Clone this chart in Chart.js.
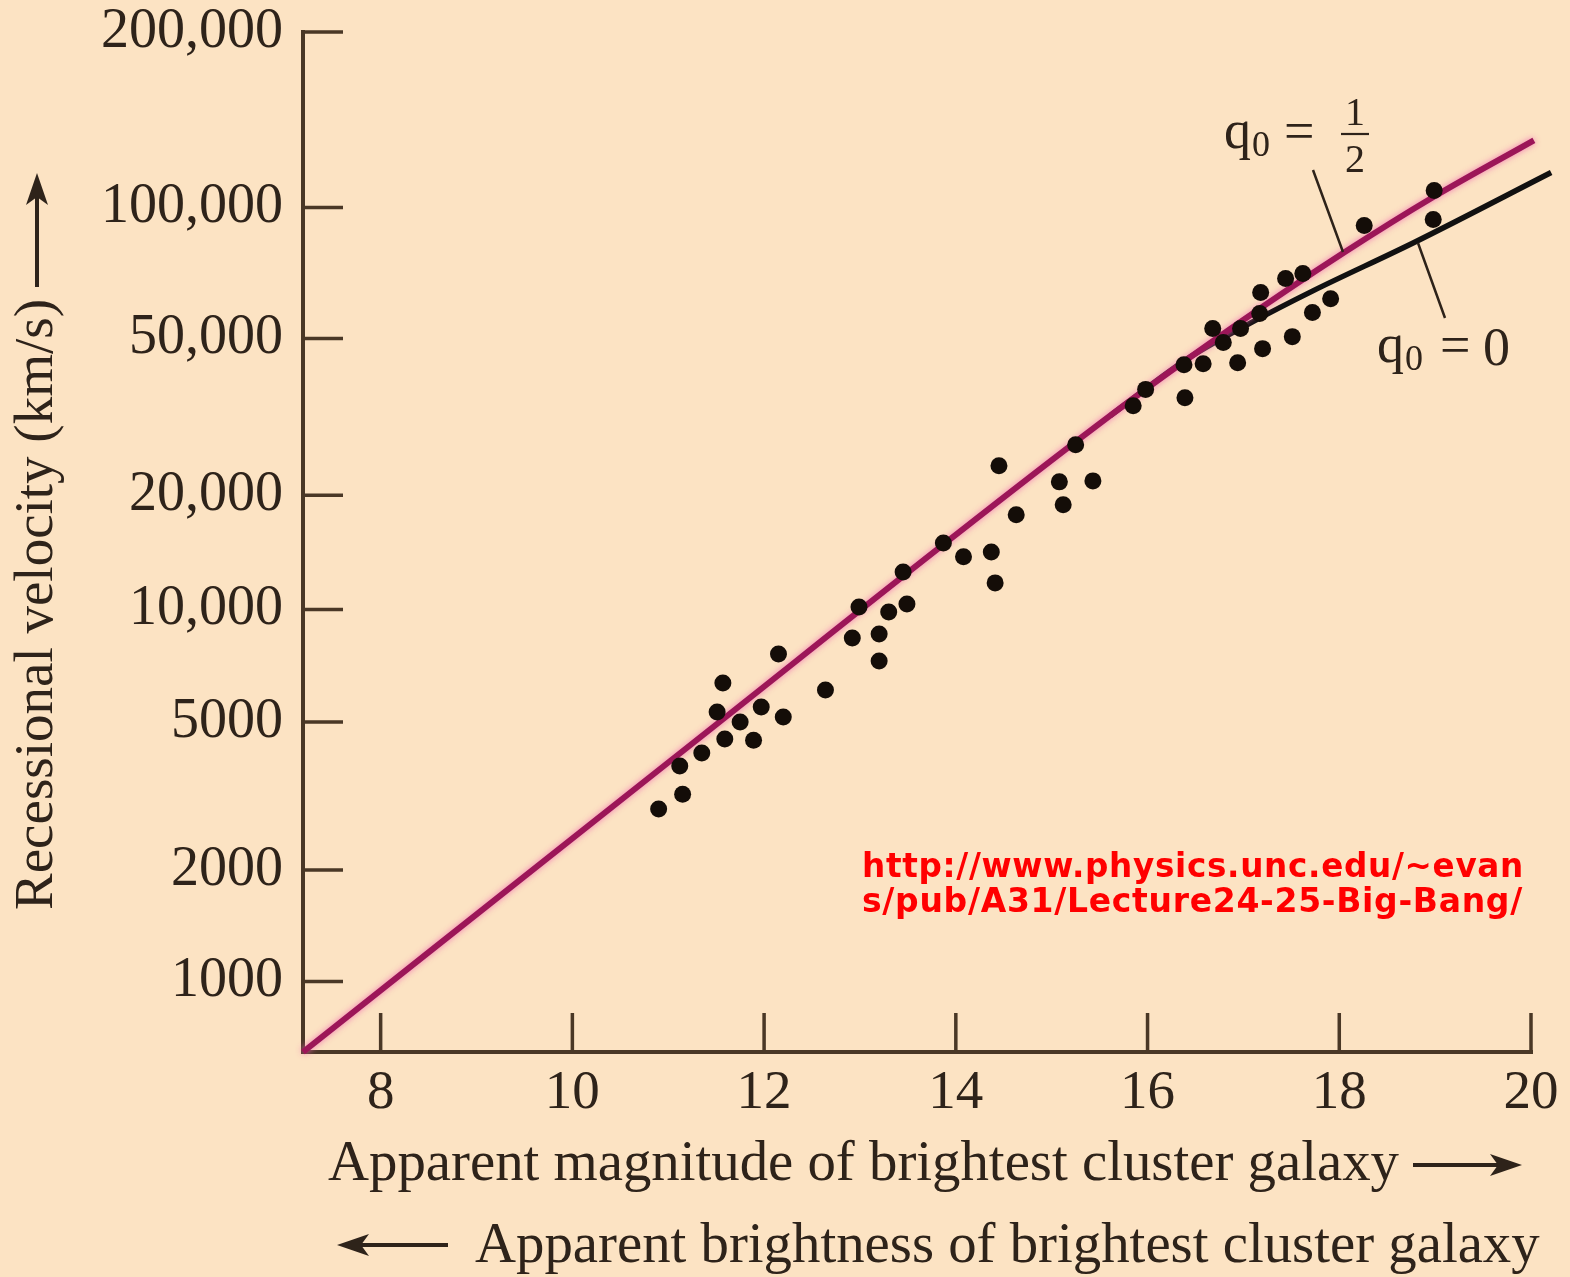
<!DOCTYPE html>
<html>
<head>
<meta charset="utf-8">
<title>Hubble diagram for brightest cluster galaxies</title>
<script src="https://cdn.jsdelivr.net/npm/chart.js@4.4.1/dist/chart.umd.min.js"></script>
<style>
  html, body { margin: 0; padding: 0; background: #fce3c3; }
  #wrap { width: 1570px; height: 1277px; position: relative; }
  canvas { display: block; }
</style>
</head>
<body>
<div id="wrap"><canvas id="hubble" width="1570" height="1277"></canvas></div>
<script>
// Brightest cluster galaxies: apparent magnitude and recessional velocity (km/s)
const magnitudes = [10.90, 11.15, 11.12, 11.35, 11.59, 11.89, 11.51, 11.75, 11.97, 12.20,
                    11.57, 12.15, 12.64, 12.92, 12.99, 13.20, 13.20, 13.30, 13.49, 13.45,
                    13.87, 14.08, 14.37, 14.41, 14.45, 14.63, 15.08, 15.12, 15.43, 15.25,
                    15.85, 15.98, 16.39, 16.38, 16.58, 16.68, 16.79, 16.94, 16.97, 17.18,
                    17.17, 17.20, 17.44, 17.62, 17.51, 17.72, 17.91, 18.26, 18.99, 18.98];
const velocities = [2920, 3200, 3810, 4130, 4500, 4470, 5320, 5000, 5490, 5160,
                    6360, 7610, 6090, 8390, 10150, 8600, 7290, 9840, 10340, 12570,
                    15000, 13780, 14200, 11760, 23850, 17780, 21670, 18890, 21800, 27020,
                    34020, 37400, 35620, 43100, 43360, 52880, 48880, 43610, 52880, 64480,
                    57470, 47240, 69540, 71410, 50550, 57800, 62380, 91540, 108560, 94330];

// Model curves for deceleration parameter q0 = 1/2 and q0 = 0
const halfModelMagnitudes = [7.19, 11.02, 15.61, 16.87, 18.05, 18.99, 20.03];
const halfModelVelocities = [645, 3930, 32080, 52880, 79750, 105500, 135900];
const zeroModelMagnitudes = [15.61, 16.45, 17.08, 17.73, 18.78, 20.21];
const zeroModelVelocities = [32080, 45130, 54660, 65170, 84000, 118000];

// Axis ticks
const velocityTicks = [1000, 2000, 5000, 10000, 20000, 50000, 100000, 200000];
const velocityTickLabels = ['1000', '2000', '5000', '10,000', '20,000', '50,000', '100,000', '200,000'];
const magnitudeTicks = [8, 10, 12, 14, 16, 18, 20];
const magnitudeRange = [7.19, 20];
const velocityRange = [645, 200000];

// The vertical scale is logarithmic in redshift; velocities are mapped with the relativistic Doppler law
const LIGHT_SPEED = 299792.458;
function redshift(v) {
  const b = v / LIGHT_SPEED;
  return Math.sqrt((1 + b) / (1 - b)) - 1;
}
const toPoints = (ms, vs) => ms.map((m, i) => ({ x: m, y: redshift(vs[i]) }));

const BG = '#fce3c3';
const INK = '#2e231a';
const AXIS = '#4a3826';
const SERIF = '"Liberation Serif", "Times New Roman", serif';

const decorations = {
  id: 'decorations',
  beforeDraw(chart) {
    const ctx = chart.ctx;
    ctx.save();
    ctx.fillStyle = BG;
    ctx.fillRect(0, 0, chart.width, chart.height);
    ctx.restore();
  },
  beforeDatasetsDraw(chart) {
    const { ctx, chartArea: { left, right, top, bottom }, scales: { x, y } } = chart;
    ctx.save();
    ctx.strokeStyle = AXIS;
    ctx.lineWidth = 4;
    ctx.lineCap = 'square';
    ctx.beginPath();
    ctx.moveTo(left, top);
    ctx.lineTo(left, bottom);
    ctx.lineTo(right, bottom);
    ctx.stroke();
    ctx.lineWidth = 3.5;
    ctx.lineCap = 'butt';
    ctx.beginPath();
    y.ticks.forEach(t => {
      const py = y.getPixelForValue(t.value);
      ctx.moveTo(left, py);
      ctx.lineTo(left + 40, py);
    });
    x.ticks.forEach(t => {
      const px = x.getPixelForValue(t.value);
      ctx.moveTo(px, bottom);
      ctx.lineTo(px, bottom - 39);
    });
    ctx.stroke();
    ctx.restore();
  },
  beforeDatasetDraw(chart, args) {
    if (args.index === 1) {
      const ctx = chart.ctx;
      ctx.save();
      ctx.shadowColor = 'rgba(240, 100, 175, 0.85)';
      ctx.shadowBlur = 6;
    }
  },
  afterDatasetDraw(chart, args) {
    if (args.index === 1) chart.ctx.restore();
  },
  afterDraw(chart) {
    const ctx = chart.ctx;
    ctx.save();
    ctx.fillStyle = INK;
    ctx.strokeStyle = INK;

    // arrow helper: shaft plus a filled, slightly notched head
    const arrow = (x1, y1, x2, y2) => {
      const ang = Math.atan2(y2 - y1, x2 - x1);
      const headLen = 32, headHalf = 11;
      const c = Math.cos(ang), s = Math.sin(ang);
      const bx = x2 - headLen * c, by = y2 - headLen * s;
      ctx.lineWidth = 4;
      ctx.beginPath();
      ctx.moveTo(x1, y1);
      ctx.lineTo(bx + 8 * c, by + 8 * s);
      ctx.stroke();
      ctx.beginPath();
      ctx.moveTo(x2, y2);
      ctx.lineTo(bx - headHalf * s, by + headHalf * c);
      ctx.lineTo(bx + 8 * c, by + 8 * s);
      ctx.lineTo(bx + headHalf * s, by - headHalf * c);
      ctx.closePath();
      ctx.fill();
    };

    // horizontal axis titles
    ctx.font = `56.8px ${SERIF}`;
    ctx.textBaseline = 'alphabetic';
    ctx.textAlign = 'left';
    ctx.fillText('Apparent magnitude of brightest cluster galaxy', 328, 1180);
    arrow(1413, 1165, 1522, 1165);
    ctx.fillText('Apparent brightness of brightest cluster galaxy', 475, 1262);
    arrow(448, 1245, 337, 1245);

    // vertical axis title
    ctx.save();
    ctx.translate(52, 910);
    ctx.rotate(-Math.PI / 2);
    ctx.font = `55px ${SERIF}`;
    ctx.fillText('Recessional velocity (km/s)', 0, 0);
    ctx.restore();
    arrow(37, 287, 37, 173);

    // curve labels
    const qLabel = (x0, base) => {
      ctx.font = `54px ${SERIF}`;
      ctx.textAlign = 'left';
      ctx.fillText('q', x0, base);
      const w = ctx.measureText('q').width;
      ctx.font = `36px ${SERIF}`;
      ctx.fillText('0', x0 + w + 1, base + 8);
    };
    qLabel(1224, 148);
    ctx.font = `54px ${SERIF}`;
    ctx.fillText('=', 1284, 149);
    ctx.font = `40px ${SERIF}`;
    ctx.textAlign = 'center';
    ctx.fillText('1', 1355, 125);
    ctx.fillText('2', 1355, 172);
    ctx.lineWidth = 2.2;
    ctx.beginPath();
    ctx.moveTo(1341, 134);
    ctx.lineTo(1369, 134);
    ctx.stroke();

    qLabel(1377, 362);
    ctx.font = `54px ${SERIF}`;
    ctx.textAlign = 'left';
    ctx.fillText('=', 1440, 363);
    ctx.fillText('0', 1483, 365);

    ctx.lineWidth = 2.5;
    ctx.beginPath();
    ctx.moveTo(1313, 170);
    ctx.lineTo(1343, 252);
    ctx.moveTo(1418, 243);
    ctx.lineTo(1445, 318);
    ctx.stroke();

    // source note
    ctx.fillStyle = '#ff0000';
    ctx.font = `bold 33px "DejaVu Sans", Verdana, sans-serif`;
    ctx.letterSpacing = '0.7px';
    ctx.textAlign = 'left';
    ctx.fillText('http://www.physics.unc.edu/~evan', 862, 877, 662);
    ctx.fillText('s/pub/A31/Lecture24-25-Big-Bang/', 862, 912, 662);
    ctx.restore();
  }
};

new Chart(document.getElementById('hubble'), {
  type: 'line',
  data: {
    datasets: [
      {
        type: 'scatter',
        label: 'Brightest cluster galaxies',
        data: toPoints(magnitudes, velocities),
        pointRadius: 8.5,
        pointBackgroundColor: '#140d08',
        pointBorderWidth: 0,
        order: 0
      },
      {
        label: 'q0 = 1/2',
        data: toPoints(halfModelMagnitudes, halfModelVelocities),
        borderColor: '#9c1658',
        borderWidth: 6,
        pointRadius: 0,
        cubicInterpolationMode: 'monotone',
        clip: false,
        order: 1
      },
      {
        label: 'q0 = 0',
        data: toPoints(zeroModelMagnitudes, zeroModelVelocities),
        borderColor: '#111111',
        borderWidth: 5.5,
        pointRadius: 0,
        cubicInterpolationMode: 'monotone',
        clip: false,
        order: 2
      }
    ]
  },
  options: {
    responsive: false,
    devicePixelRatio: 1,
    animation: false,
    layout: { padding: { top: 32, right: 39, left: 0, bottom: 0 } },
    plugins: { legend: { display: false }, tooltip: { enabled: false } },
    scales: {
      x: {
        type: 'linear',
        min: magnitudeRange[0],
        max: magnitudeRange[1],
        afterBuildTicks: s => { s.ticks = magnitudeTicks.map(v => ({ value: v })); },
        afterFit: s => { s.height = 225; s.paddingLeft = 0; s.paddingRight = 0; },
        grid: { display: false, drawTicks: false },
        border: { display: false },
        ticks: {
          autoSkip: false,
          maxRotation: 0,
          padding: 14,
          color: INK,
          font: { family: SERIF, size: 55, lineHeight: 1 },
          callback: v => String(v)
        }
      },
      y: {
        type: 'logarithmic',
        min: redshift(velocityRange[0]),
        max: redshift(velocityRange[1]),
        afterBuildTicks: s => { s.ticks = velocityTicks.map(v => ({ value: redshift(v) })); },
        afterFit: s => { s.width = 303; s.paddingTop = 0; s.paddingBottom = 0; },
        grid: { display: false, drawTicks: false },
        border: { display: false },
        ticks: {
          autoSkip: false,
          padding: 20,
          color: INK,
          font: { family: SERIF, size: 56, lineHeight: 1 },
          callback: (v, i) => velocityTickLabels[i]
        }
      }
    }
  },
  plugins: [decorations]
});
</script>
</body>
</html>
